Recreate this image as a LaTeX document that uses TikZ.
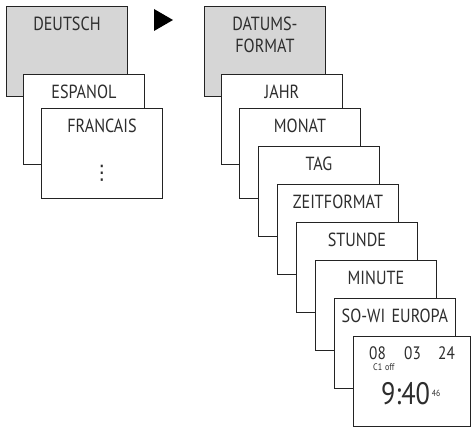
\documentclass[tikz,border=0pt]{standalone}
\usepackage{fontspec}
\setmainfont{PT Sans}[FakeStretch=0.85, WordSpace=0.3]
\newfontfamily\symfont{DejaVu Sans}
\usetikzlibrary{positioning}

\definecolor{boxgray}{RGB}{214,214,214}
\definecolor{linecol}{RGB}{35,35,35}
\definecolor{textcol}{RGB}{45,45,45}

\begin{document}
\begin{tikzpicture}[x=1pt,y=-1pt,
menu/.style={draw=linecol, fill=white, line width=0.9pt, inner sep=0pt,
  text width=121pt, align=center, text height=24pt, text depth=66pt,
  font=\fontsize{19}{22}\selectfont, text=textcol},
head/.style={menu, fill=boxgray},
firstbox/.style={menu, below right=68pt and 17pt of #1.north west},
secondbox/.style={menu, below right=34pt and 18pt of #1.north west},
nextbox/.style={menu, below right=38pt and 19pt of #1.north west},
lcd/.style={inner sep=0pt, anchor=base west, text=textcol},
]
\useasboundingbox (0,0) rectangle (471,427);

% language menu
\node[head, anchor=north west] (deutsch) at (6,6) {DEUTSCH};
\node[firstbox=deutsch] (espanol) {ESPANOL};
\node[secondbox=espanol] (francais) {FRANCAIS};
\node[below=57pt of francais.north, inner sep=0pt, anchor=north,
  font=\symfont\fontsize{20}{22}\selectfont, text=textcol] (fdots) {⋮};

% next step
\fill[black] (154,9) -- (173,20) -- (154,31) -- cycle;

% date menu
\node[head, anchor=north west] (datum) at (204,6) {DATUMS-\\FORMAT};
\node[firstbox=datum] (jahr) {JAHR};
\node[secondbox=jahr] (monat) {MONAT};
\node[nextbox=monat] (tag) {TAG};
\node[nextbox=tag] (zeit) {ZEITFORMAT};
\node[nextbox=zeit] (stunde) {STUNDE};
\node[nextbox=stunde] (minute) {MINUTE};
\node[nextbox=minute] (sowi) {SO-WI EUROPA};
\node[nextbox=sowi, text width=117pt] (clock) {};

% display
\node[lcd, font=\fontsize{18}{20}\selectfont] (day) at ([shift={(16,23.5)}]clock.north west) {08};
\node[lcd, font=\fontsize{18}{20}\selectfont] (month) at ([shift={(51,23.5)}]clock.north west) {03};
\node[lcd, font=\fontsize{18}{20}\selectfont] (year) at ([shift={(85,23.5)}]clock.north west) {24};
\node[lcd, font=\fontsize{9.5}{11}\selectfont] (chan) at ([shift={(20,34.5)}]clock.north west) {C1\hspace{0.3em}off};
\node[lcd, font=\fontsize{31}{34}\selectfont] (time) at ([shift={(28,68)}]clock.north west) {9:40};
\node[lcd, font=\fontsize{9}{10}\selectfont] (sec) at ([shift={(1.5,-8)}]time.base east) {46};
\end{tikzpicture}
\end{document}
